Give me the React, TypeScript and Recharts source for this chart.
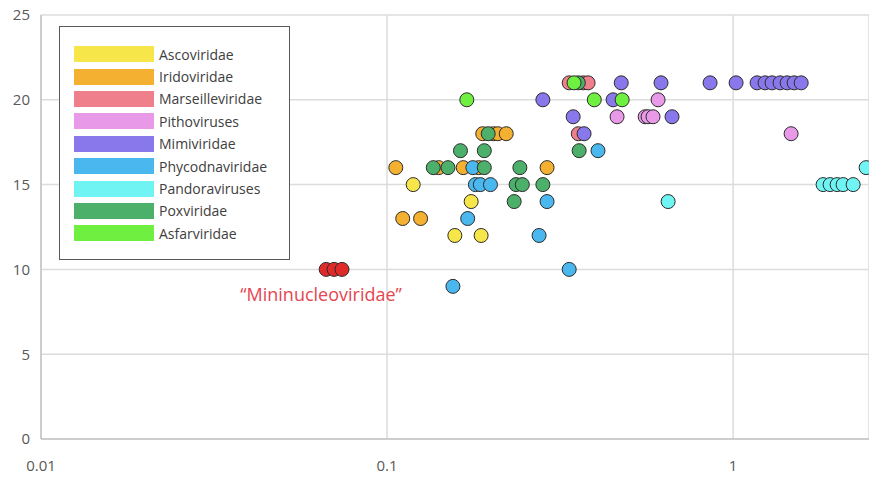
import React from "react";
import {
  ScatterChart,
  Scatter,
  XAxis,
  YAxis,
  CartesianGrid,
  ReferenceDot,
} from "recharts";

// genome size (Mb) vs. number of genes in the core set, per virus family
const families = [
  "Ascoviridae",
  "Iridoviridae",
  "Marseilleviridae",
  "Pithoviruses",
  "Mimiviridae",
  "Phycodnaviridae",
  "Pandoraviruses",
  "Poxviridae",
  "Asfarviridae",
];

const familyColors = [
  "#f7e64a",
  "#f4b030",
  "#f07f8c",
  "#e89ae8",
  "#8878ec",
  "#4ab8ee",
  "#6ff3f3",
  "#4caf6a",
  "#6ff040",
];

const ascoviridae = [
  { x: 0.119, y: 15 },
  { x: 0.175, y: 14 },
  { x: 0.157, y: 12 },
  { x: 0.187, y: 12 },
];

const iridoviridae = [
  { x: 0.106, y: 16 },
  { x: 0.111, y: 13 },
  { x: 0.125, y: 13 },
  { x: 0.141, y: 16 },
  { x: 0.166, y: 16 },
  { x: 0.184, y: 16 },
  { x: 0.189, y: 18 },
  { x: 0.203, y: 18 },
  { x: 0.209, y: 18 },
  { x: 0.221, y: 18 },
  { x: 0.29, y: 16 },
];

const marseilleviridae = [
  { x: 0.336, y: 21 },
  { x: 0.369, y: 21 },
  { x: 0.381, y: 21 },
  { x: 0.357, y: 18 },
];

const pithoviruses = [
  { x: 0.607, y: 20 },
  { x: 0.462, y: 19 },
  { x: 0.557, y: 19 },
  { x: 0.568, y: 19 },
  { x: 0.587, y: 19 },
  { x: 1.471, y: 18 },
];

const mimiviridae = [
  { x: 0.282, y: 20 },
  { x: 0.45, y: 20 },
  { x: 0.345, y: 19 },
  { x: 0.666, y: 19 },
  { x: 0.371, y: 18 },
  { x: 0.475, y: 21 },
  { x: 0.619, y: 21 },
  { x: 0.858, y: 21 },
  { x: 1.02, y: 21 },
  { x: 1.173, y: 21 },
  { x: 1.237, y: 21 },
  { x: 1.296, y: 21 },
  { x: 1.367, y: 21 },
  { x: 1.433, y: 21 },
  { x: 1.501, y: 21 },
  { x: 1.573, y: 21 },
];

const phycodnaviridae = [
  { x: 0.177, y: 16 },
  { x: 0.18, y: 15 },
  { x: 0.186, y: 15 },
  { x: 0.199, y: 15 },
  { x: 0.171, y: 13 },
  { x: 0.29, y: 14 },
  { x: 0.275, y: 12 },
  { x: 0.336, y: 10 },
  { x: 0.155, y: 9 },
  { x: 0.407, y: 17 },
];

const pandoraviruses = [
  { x: 0.649, y: 14 },
  { x: 1.82, y: 15 },
  { x: 1.907, y: 15 },
  { x: 1.998, y: 15 },
  { x: 2.079, y: 15 },
  { x: 2.223, y: 15 },
  { x: 2.423, y: 16 },
];

const poxviridae = [
  { x: 0.136, y: 16 },
  { x: 0.15, y: 16 },
  { x: 0.191, y: 16 },
  { x: 0.163, y: 17 },
  { x: 0.191, y: 17 },
  { x: 0.196, y: 18 },
  { x: 0.242, y: 16 },
  { x: 0.236, y: 15 },
  { x: 0.246, y: 15 },
  { x: 0.282, y: 15 },
  { x: 0.233, y: 14 },
  { x: 0.359, y: 17 },
  { x: 0.357, y: 21 },
];

const asfarviridae = [
  { x: 0.17, y: 20 },
  { x: 0.397, y: 20 },
  { x: 0.478, y: 20 },
  { x: 0.347, y: 21 },
];

const mininucleoviridae = [
  { x: 0.0667, y: 10 },
  { x: 0.0703, y: 10 },
  { x: 0.0741, y: 10 },
];

const familyData = [
  ascoviridae,
  iridoviridae,
  marseilleviridae,
  pithoviruses,
  mimiviridae,
  phycodnaviridae,
  pandoraviruses,
  poxviridae,
  asfarviridae,
];

const xTicks = [0.01, 0.1, 1];
const yTicks = [0, 5, 10, 15, 20, 25];

const FONT = "'Open Sans', sans-serif";

const dot = (fill: string) => (props: any) => (
  <circle
    cx={props.cx}
    cy={props.cy}
    r={7}
    fill={fill}
    stroke="#2b2b2b"
    strokeWidth={1}
  />
);

function FamilyLegend() {
  return (
    <div
      style={{
        position: "absolute",
        left: 59,
        top: 26,
        width: 231,
        height: 234,
        boxSizing: "border-box",
        border: "1px solid #595959",
        background: "#fff",
        paddingTop: 16,
      }}
    >
      {families.map((name, i) => (
        <div
          key={name}
          style={{ display: "flex", alignItems: "center", height: 22.4 }}
        >
          <div
            style={{
              marginLeft: 14,
              width: 80,
              height: 16,
              background: familyColors[i],
            }}
          />
          <span
            style={{
              marginLeft: 5,
              fontSize: 14,
              color: "#404040",
              fontFamily: FONT,
            }}
          >
            {name}
          </span>
        </div>
      ))}
    </div>
  );
}

export default function App() {
  return (
    <div
      style={{
        position: "absolute",
        left: 0,
        top: 0,
        width: 869,
        height: 481,
        background: "#fff",
        fontFamily: FONT,
      }}
    >
      <ScatterChart
        width={869}
        height={481}
        margin={{ top: 15, right: 0, bottom: 0, left: 0 }}
      >
        <CartesianGrid stroke="#dcdcdc" strokeWidth={1.5} />
        <XAxis
          type="number"
          dataKey="x"
          scale="log"
          domain={[0.01, 2.47]}
          allowDataOverflow
          ticks={xTicks}
          tickFormatter={(v: number) => String(v)}
          height={42}
          stroke="#c4c4c4"
          strokeWidth={1.5}
          tickLine={false}
          tickMargin={15}
          tick={{ fill: "#595959", fontSize: 15 }}
        />
        <YAxis
          type="number"
          dataKey="y"
          domain={[0, 25]}
          ticks={yTicks}
          width={41}
          stroke="#c4c4c4"
          strokeWidth={1.5}
          tickLine={false}
          tickMargin={5}
          tick={{ fill: "#595959", fontSize: 15 }}
        />
        {familyData.map((data, i) => (
          <Scatter
            key={families[i]}
            name={families[i]}
            data={data}
            shape={dot(familyColors[i])}
            isAnimationActive={false}
          />
        ))}
        <Scatter
          name="Mininucleoviridae"
          data={mininucleoviridae}
          shape={dot("#e02a2a")}
          isAnimationActive={false}
        />
        <ReferenceDot
          x={mininucleoviridae[1].x}
          y={mininucleoviridae[1].y}
          r={0}
          fill="none"
          stroke="none"
          label={{
            value: "\u201cMininucleoviridae\u201d",
            position: "bottom",
            offset: 19,
            dx: -13,
            fill: "#e64550",
            fontSize: 18,
          }}
        />
      </ScatterChart>
      <FamilyLegend />
    </div>
  );
}
